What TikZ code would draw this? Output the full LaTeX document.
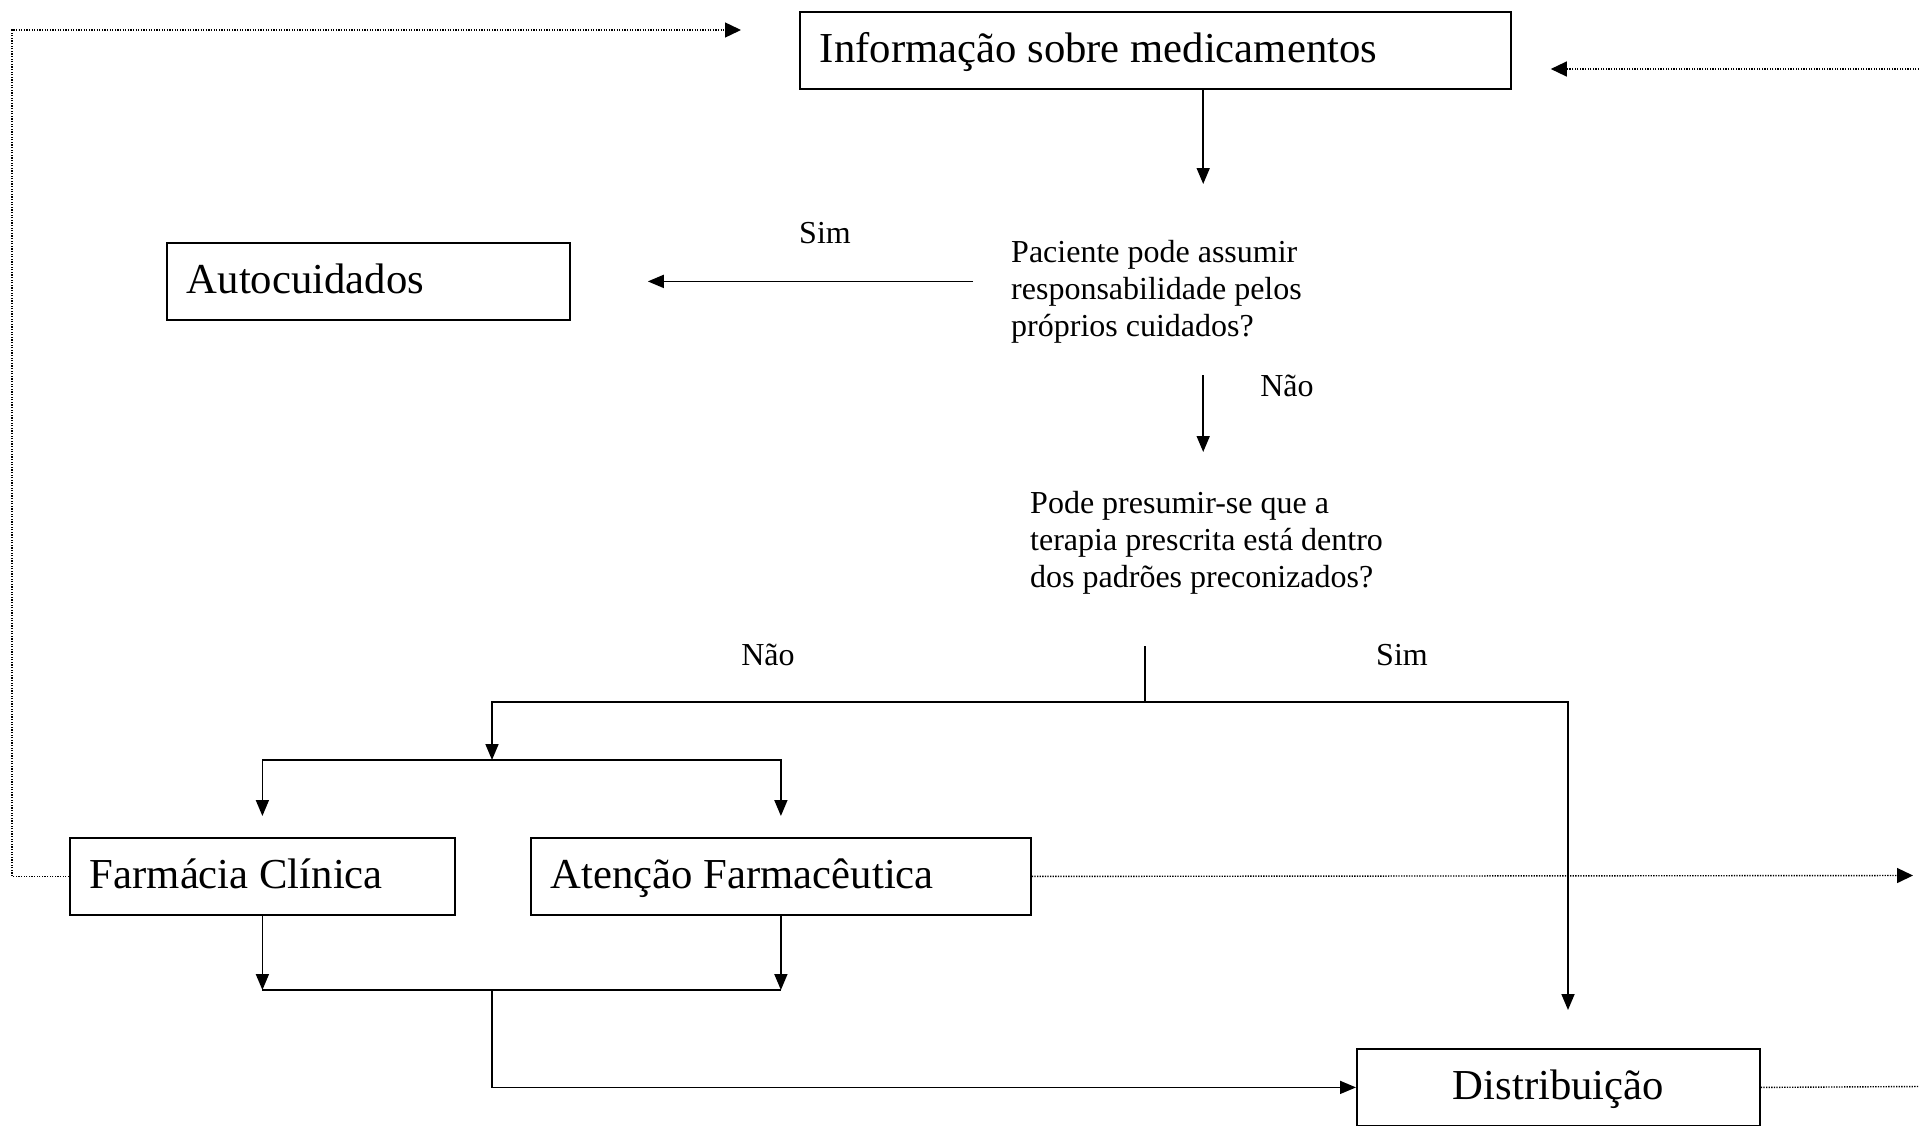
\documentclass[tikz,border=0pt]{standalone}
\usepackage{fontspec}
\setmainfont{Liberation Serif}
\usetikzlibrary{arrows.meta}
\newcommand{\bigfnt}{\fontsize{42.7}{49}\selectfont}
\newcommand{\smallfnt}{\fontsize{32}{36.8}\selectfont}
\begin{document}
\begin{tikzpicture}[x=1pt,y=-1pt,
  box/.style={draw, line width=1.8pt, rectangle, anchor=north west, inner xsep=20pt, inner ysep=0pt,
    minimum height=77pt, text height=33pt, text depth=9pt, align=flush left,
    font=\bigfnt},
  qtext/.style={anchor=north west, inner sep=0pt, align=flush left, font=\smallfnt},
  lbl/.style={anchor=base, inner sep=0pt, font=\smallfnt},
  conn/.style={line width=1.7pt},
  arr/.style={conn, -{Triangle[length=16pt,width=13pt]}},
  dot/.style={line width=1.4pt, dash pattern=on 1.3pt off 1.3pt},
  dotarr/.style={dot, -{Triangle[length=16pt,width=15pt]}},
]
\useasboundingbox (0,0) rectangle (1919,1125);

% boxes
\node[box, minimum width=711pt, text width=671pt] (info) at (799,11) {Informação sobre medicamentos};
\node[box, minimum width=403pt, text width=363pt] (auto) at (166,242) {Autocuidados};
\node[box, minimum width=385pt, text width=345pt] (farm) at (69,837) {Farmácia Clínica};
\node[box, minimum width=500pt, text width=460pt] (aten) at (530,837) {Atenção Farmacêutica};
\node[box, minimum width=403pt, text width=363pt, align=flush center] (dist) at (1356,1048) {Distribuição};

% questions
\node[qtext, text width=384pt] (q1) at (1011,240) {Paciente pode assumir\\responsabilidade pelos\\próprios cuidados?};
\node[qtext, text width=380pt] (q2) at (1030,491) {Pode presumir-se que a\\terapia prescrita está dentro\\dos padrões preconizados?};

% labels
\node[lbl, anchor=base west] (simTop) at (799,243) {Sim};
\node[lbl] (nao1) at (1287,396) {Não};
\node[lbl] (nao2) at (768,665) {Não};
\node[lbl] (sim2) at (1402,665) {Sim};

% helper coordinates
\coordinate (split) at (1145,702);
\coordinate (naoL) at (492,702);
\coordinate (fork) at (492,760);
\coordinate (simR) at (1568,702);
\coordinate (join) at (492,990);
\coordinate (dtl) at (12,30);
\coordinate (dtip) at (741,30);
\coordinate (dr) at (1913,875.5);
\coordinate (dr2) at (1919,1086.5);
\coordinate (tr) at (1919,69);

% solid connectors
\draw[arr, shorten >=56pt] (info.south -| q1.north) -- (q1.north);
\draw[arr, shorten <=38pt, shorten >=77pt] (q1.west |- auto.east) -- (auto.east);
\draw[arr, shorten <=32pt, shorten >=39pt] (q1.south) -- (q1.south |- q2.north);
\draw[conn, shorten <=52pt] (q2.south -| split) -- (split);
\draw[arr] (split) -- (naoL) -- (fork);
\draw[arr, shorten >=38pt] (split) -- (simR) -- (simR |- dist.north);
\draw[arr, shorten >=21pt] (fork) -| (farm.north);
\draw[arr, shorten >=21pt] (fork) -| (aten.north);
\draw[arr] (farm.south) -- (farm.south |- join);
\draw[arr] (aten.south) -- (aten.south |- join);
\draw[conn] (farm.south |- join) -- (aten.south |- join);
\draw[arr] (join) |- (dist.west);

% dotted connectors
\draw[dotarr] (farm.west) -| (dtl) -- (dtip);
\draw[dotarr] (aten.east) -- (dr);
\draw[dot] (dist.east) -- (dr2);
\draw[dotarr, shorten >=39pt] (tr) -- (info.east |- tr);
\end{tikzpicture}
\end{document}
